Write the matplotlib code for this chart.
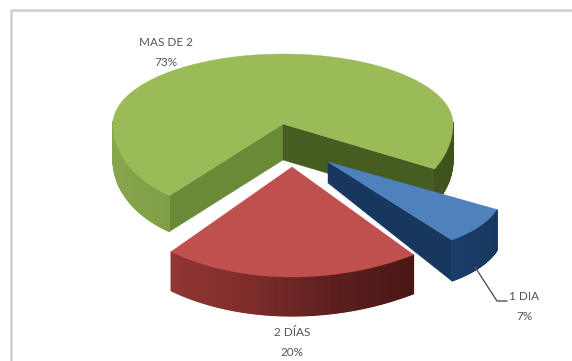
import numpy as np
import matplotlib.pyplot as plt
from matplotlib.colors import LinearSegmentedColormap
from matplotlib.patches import Polygon

# slices go clockwise starting from start_angle
labels = ['1 DIA', '2 DÍAS', 'MAS DE 2']
values = [7, 20, 73]
start_angle = 120

fig = plt.figure(figsize=(5.72, 3.61), dpi=100)
ax = fig.add_axes([0, 0, 1, 1])
ax.set_xlim(0, 572)
ax.set_ylim(361, 0)
ax.axis('off')
plt.rcParams['font.family'] = ['Lato', 'DejaVu Sans']

# chart frame, cut off at the right and bottom
ax.plot([11, 11, 572], [361, 10, 10], color='#cfcfcf', lw=1.8)


def arc(a0, a1, cx, cy, rx, ry_back, ry_front, px=1.0, py=1.0):
    t = np.radians(np.linspace(a0, a1, 200))
    s, c = np.sin(t), np.cos(t)
    rx = np.linspace(rx[0], rx[1], 200)
    ry = np.where(c > 0, ry_back, ry_front)
    # exponents push the front of the ellipse out, a rough perspective
    sx = np.where(c < 0, np.sign(s) * np.abs(s) ** px, s)
    sy = np.where(c < 0, -np.abs(c) ** py, c)
    return t, cx + rx * sx, cy - ry * sy


def wedge(a0, a1, cx, cy, rx, ry_back, ry_front, depth, apex_depth, top, side, cut0=None, cut1=None, px=1.0, py=1.0):
    t, x, y = arc(a0, a1, cx, cy, rx, ry_back, ry_front, px, py)
    if cut0 is not None:
        ax.add_patch(Polygon([(cx, cy), (x[0], y[0]), (x[0], y[0] + depth), (cx, cy + apex_depth)], fc=cut0, ec=cut0, lw=0.3))
    if cut1 is not None:
        ax.add_patch(Polygon([(cx, cy), (x[-1], y[-1]), (x[-1], y[-1] + depth), (cx, cy + apex_depth)], fc=cut1, ec=cut1, lw=0.3))
    # outer side, only the part turned to the viewer
    xmin, xmax = x.min(), x.max()
    for i in range(len(t) - 1):
        if np.cos(t[i]) > 0.03:
            continue
        f = (x[i] - xmin) / max(xmax - xmin, 1)
        col = side(f)
        ax.add_patch(Polygon([(x[i], y[i]), (x[i + 1], y[i + 1]), (x[i + 1], y[i + 1] + depth), (x[i], y[i] + depth)],
                             fc=col, ec=col, lw=0.8))
    ax.add_patch(Polygon(np.r_[[[cx, cy]], np.c_[x, y]], fc=top, ec=top, lw=0.3))


shares = np.array(values) / sum(values) * 360
a = start_angle + np.r_[0, np.cumsum(shares)]

green_side = LinearSegmentedColormap.from_list('g', ['#88a64c', '#7a9a42', '#6c8c38', '#4a5f22', '#3f521c'])
red_side = LinearSegmentedColormap.from_list('r', ['#913634', '#7d2c2a', '#5d1f1e', '#4a1715'])
blue_side = LinearSegmentedColormap.from_list('b', ['#1b3d6c', '#17375e'])

wedge(a[2], a[3], 283, 124, (170, 170), 70, 90, 36, 36, '#9bbb59', green_side, cut0='#6a8a38', cut1='#465c20', px=0.8)
wedge(a[0], a[1], 328, 162, (195, 217), 90, 95, 41, 21, '#4f81bd', blue_side, cut1='#17375e')
wedge(a[1], a[2], 292, 167, (213, 200), 110, 110, 39, 39, '#c0504d', red_side, py=1.15)

ax.plot([475, 497, 507], [267, 301, 301], color='#555555', lw=1)

txt = dict(ha='center', va='center', fontsize=8.5, color='#555555')
ax.text(166, 43, labels[2], **txt)
ax.text(166, 62, '%d%%' % values[2], **txt)
ax.text(292, 333, labels[1], **txt)
ax.text(292, 353, '%d%%' % values[1], **txt)
ax.text(524, 297, labels[0], **txt)
ax.text(524, 317, '%d%%' % values[0], **txt)

fig.savefig('out.png', dpi=100)
